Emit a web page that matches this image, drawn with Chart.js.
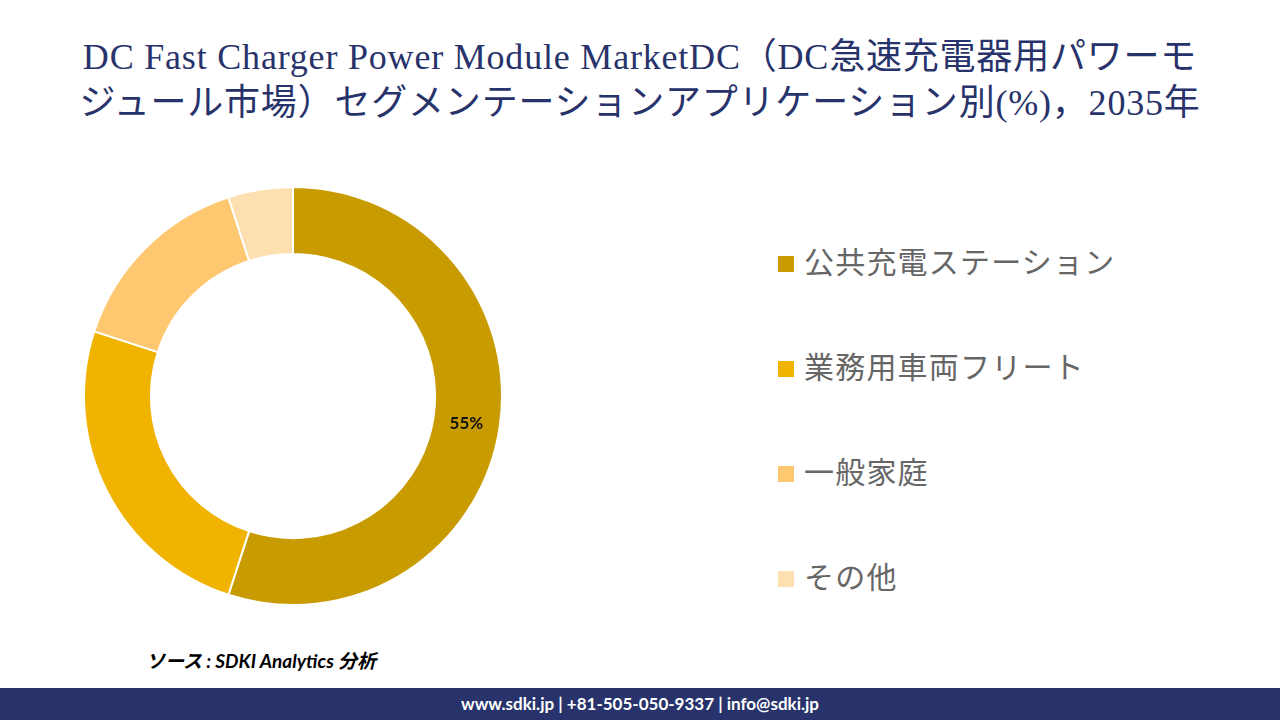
<!DOCTYPE html>
<html><head><meta charset="utf-8">
<script src="https://cdn.jsdelivr.net/npm/chart.js"></script>
<style>
body{margin:0;width:1280px;height:720px;background:#fff;position:relative;overflow:hidden;font-family:"Noto Sans CJK JP",sans-serif}
#title{position:absolute;top:34px;left:0;width:1280px;text-align:center;color:#27336a;font-family:"Liberation Serif","Noto Sans CJK JP",serif;font-size:36px;letter-spacing:0.8px;line-height:46px}
#wrap{position:absolute;left:80px;top:183px;width:426px;height:426px}
#legend{position:absolute;left:778px;top:238px;color:#666;font-size:30px;letter-spacing:1.2px}
.item{height:105px;display:flex;align-items:flex-start}
.sw{width:16px;height:16px;margin-right:10px;margin-top:18px}
#src{position:absolute;left:146px;top:646px;font-style:italic;font-weight:bold;font-size:19px;font-family:"Lato","Noto Sans CJK JP",sans-serif}
#foot{position:absolute;left:0;top:688px;width:1280px;height:32px;background:#27336a;color:#fff;text-align:center;font:bold 17px "Lato",sans-serif;line-height:32px}
</style></head><body>
<div id="title">DC Fast Charger Power Module MarketDC（DC急速充電器用パワーモ<br>ジュール市場）セグメンテーションアプリケーション別(%)，2035年</div>
<div id="wrap"><canvas id="c"></canvas></div>
<div id="legend"></div>
<div id="src">ソース : SDKI Analytics 分析</div>
<div id="foot">www.sdki.jp | +81-505-050-9337 | info@sdki.jp</div>
<script>
const categories=["公共充電ステーション","業務用車両フリート","一般家庭","その他"];
const values=[55,25,15,5];
const colors=["#C89B00","#F0B400","#FDC870","#FDDFB0"];
const lg=document.getElementById('legend');
categories.forEach((c,i)=>{lg.innerHTML+=`<div class="item"><div class="sw" style="background:${colors[i]}"></div>${c}</div>`;});
const labelPlugin={id:'lbl',afterDatasetsDraw(ch){const ctx=ch.ctx;const meta=ch.getDatasetMeta(0);
 const p=meta.data[0].tooltipPosition();ctx.save();ctx.font='bold 17px Lato, sans-serif';ctx.fillStyle='#111';ctx.textAlign='center';ctx.textBaseline='middle';ctx.fillText(values[0]+'%',p.x,p.y);ctx.restore();}};
new Chart(document.getElementById('c'),{type:'doughnut',data:{labels:categories,datasets:[{data:values,backgroundColor:colors,borderColor:'#fff',borderWidth:2}]},
options:{responsive:true,maintainAspectRatio:false,animation:false,cutout:'68%',layout:{padding:3},plugins:{legend:{display:false},tooltip:{enabled:false}}},plugins:[labelPlugin]});
</script></body></html>
